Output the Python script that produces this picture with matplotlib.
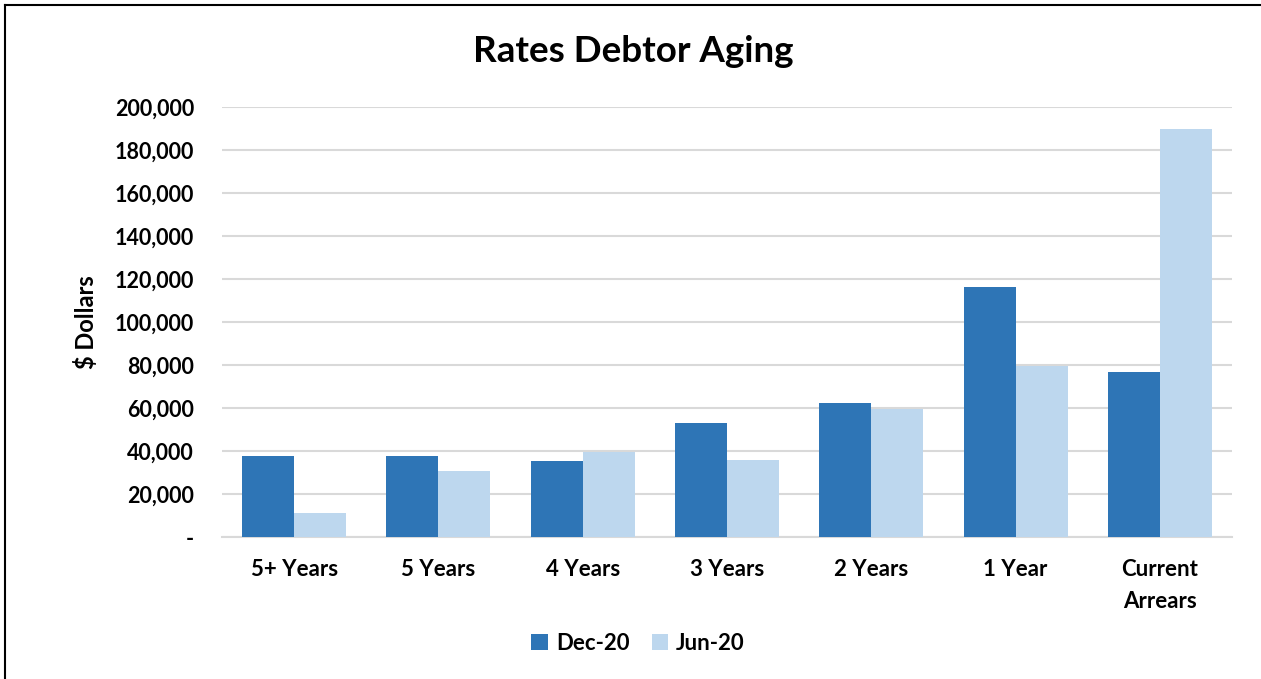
import numpy as np
import matplotlib.pyplot as plt
from matplotlib.lines import Line2D
from matplotlib.ticker import FuncFormatter

categories = ['5+ Years', '5 Years', '4 Years', '3 Years', '2 Years', '1 Year', 'Current\nArrears']
dec20 = [37800, 37800, 35500, 53000, 62300, 116500, 76800]
jun20 = [11400, 30800, 39800, 36000, 59500, 79600, 190000]

plt.rcParams['font.family'] = ['Lato', 'DejaVu Sans']
plt.rcParams['font.weight'] = 'bold'

fig = plt.figure(figsize=(12.61, 6.79), dpi=100)
ax = fig.add_axes([0.176, 0.209, 0.801, 0.633])

x = np.arange(len(categories))
w = 0.36
ax.bar(x - w/2, dec20, w, color='#2E75B6', label='Dec-20', zorder=3)
ax.bar(x + w/2, jun20, w, color='#BDD7EE', label='Jun-20', zorder=3)

ax.set_xlim(-0.5, len(categories) - 0.5)
ax.set_ylim(0, 200000)
ax.set_yticks(np.arange(0, 200001, 20000))
ax.yaxis.set_major_formatter(FuncFormatter(lambda v, p: '-' if v == 0 else f'{int(v):,}'))
ax.set_xticks(x)
ax.set_xticklabels(categories, fontsize=16, fontweight='bold', linespacing=1.65)
ax.tick_params(axis='y', labelsize=15.5, length=0, pad=20)
ax.tick_params(axis='x', length=0, pad=16)
for lab in ax.get_yticklabels():
    lab.set_fontweight('bold')

ax.grid(axis='y', color='#D9D9D9', linewidth=1.5, zorder=0)
for s in ['top', 'right', 'left']:
    ax.spines[s].set_visible(False)
ax.spines['bottom'].set_color('#D9D9D9')
ax.spines['bottom'].set_linewidth(1.5)

ax.set_ylabel('$ Dollars', fontsize=17, fontweight='bold', labelpad=12)
fig.suptitle('Rates Debtor Aging', fontsize=26.5, fontweight='bold', x=0.502, y=0.948)

fig.legend(*ax.get_legend_handles_labels(), loc='center', bbox_to_anchor=(0.506, 0.053), ncol=2,
           frameon=False, fontsize=16, handlelength=0.75, handleheight=0.75,
           columnspacing=1.0, handletextpad=0.35)

# outer frame (top and left edges visible)
fig.add_artist(Line2D([0.004, 1.0], [0.993, 0.993], color='black', linewidth=1.5, transform=fig.transFigure))
fig.add_artist(Line2D([0.004, 0.004], [0.0, 0.993], color='black', linewidth=1.5, transform=fig.transFigure))

plt.savefig('out.png', dpi=100)
